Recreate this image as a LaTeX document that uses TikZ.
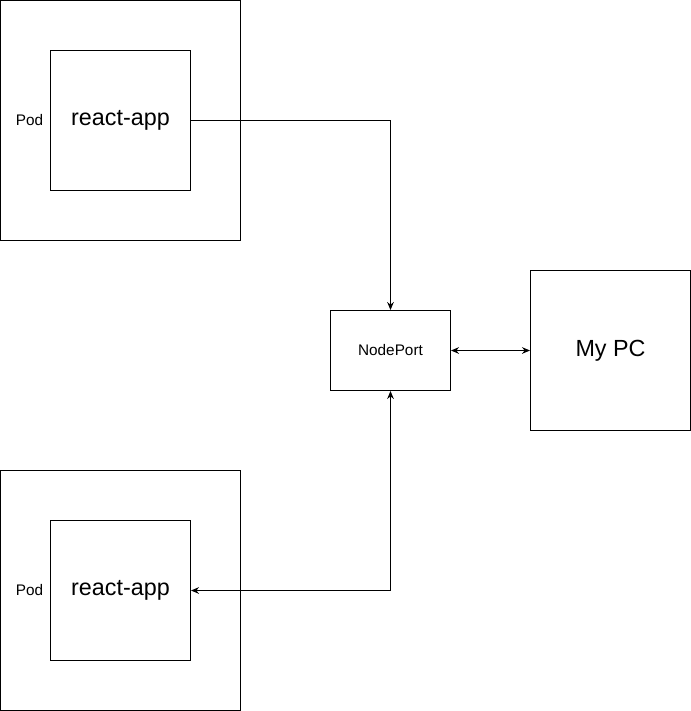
\documentclass[tikz,border=0pt]{standalone}
\usepackage{fontspec}
\setmainfont{Liberation Sans}
\usetikzlibrary{arrows.meta}

\begin{document}
\begin{tikzpicture}[x=0.75pt,y=-0.75pt,line width=0.75pt,
    box/.style={draw,rectangle,inner sep=0pt},
    big/.style={font=\fontsize{17.5}{20}\selectfont},
    small/.style={font=\fontsize{11.5}{14}\selectfont},
    link/.style={-{Stealth[length=6pt,width=5pt]}},
    both/.style={{Stealth[length=6pt,width=5pt]}-{Stealth[length=6pt,width=5pt]}}]
  \useasboundingbox (0,0) rectangle (691,711);

  % pods
  \foreach \y/\n in {0/one,470/two} {
    \begin{scope}[yshift=-0.75*\y pt]
      \node[box,minimum width=240*0.75pt,minimum height=240*0.75pt] (pod\n) at (120.5,120.5) {};
      \node[box,big,minimum width=140*0.75pt,minimum height=140*0.75pt] (app\n) at (120.5,120.5) {react-app};
      \node[small] (lbl\n) at (29.5,120.5) {Pod};
    \end{scope}
  }

  % service and client
  \node[box,small,minimum width=120*0.75pt,minimum height=80*0.75pt] (nodeport) at (390.5,350.5) {NodePort};
  \node[box,big,minimum width=160*0.75pt,minimum height=160*0.75pt] (mypc) at (610.5,350.5) {My PC};

  \draw[link] (appone.east) -| (nodeport.north);
  \draw[both] (nodeport.south) |- (apptwo.east);
  \draw[both] (nodeport.east) -- (mypc.west);
\end{tikzpicture}
\end{document}
